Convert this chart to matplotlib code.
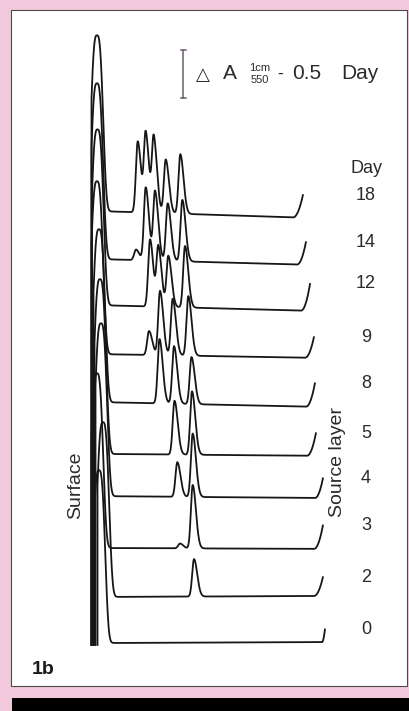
import numpy as np
import matplotlib
matplotlib.use('Agg')
import matplotlib.pyplot as plt
from matplotlib.patches import Rectangle

plt.rcParams['font.family'] = ['Liberation Sans', 'DejaVu Sans']

# Densitometer scans of the soil column, one trace per day (bottom to top)
days = [0, 2, 3, 4, 5, 8, 9, 12, 14, 18]
# vertical offset of each trace (absorbance units)
offsets = [0.0, 0.48, 0.99, 1.53, 1.97, 2.51, 3.01, 3.52, 4.00, 4.50]
# baseline drift from surface to end of scan
drift = [0.01, 0.01, -0.01, -0.02, -0.02, -0.05, -0.04, -0.06, -0.06, -0.07]
# surface peak: position (mm) and height (A)
surface_pos = [0.2, 0.6, 0.0, 0.4, 0.3, 0.2, 0.0, 0.05, 0.0, 0.0]
surface_h = [1.80, 1.82, 1.82, 1.80, 1.82, 1.80, 1.80, 1.83, 1.83, 1.83]
# source layer peaks: (position mm, height A)
peaks = [
    [],
    [(9.7, 0.39)],
    [(8.3, 0.05), (9.57, 0.66)],
    [(8.03, 0.36), (9.57, 0.66)],
    [(7.75, 0.56), (9.5, 0.66)],
    [(6.25, 0.67), (7.7, 0.60), (9.45, 0.49)],
    [(5.2, 0.25), (6.3, 0.67), (7.57, 0.59), (9.13, 0.62)],
    [(5.3, 0.70), (6.13, 0.62), (7.13, 0.53), (8.8, 0.64)],
    [(3.9, 0.11), (4.87, 0.76), (5.8, 0.72), (7.07, 0.60), (8.53, 0.64)],
    [(4.07, 0.74), (4.87, 0.82), (5.67, 0.78), (6.87, 0.56), (8.33, 0.62)],
]
# end of scan: position (mm), final rise (A), width of the rise (mm)
end_x = [22.8, 22.6, 22.6, 22.6, 21.9, 21.8, 21.7, 21.3, 20.9, 20.6]
end_rise = [0.14, 0.20, 0.25, 0.21, 0.24, 0.25, 0.22, 0.28, 0.24, 0.24]
hook_span = [0.3, 0.9, 0.9, 0.8, 0.9, 0.9, 0.9, 0.9, 0.9, 1.0]
bottom = -0.02

fig = plt.figure(figsize=(4.09, 7.11), dpi=100, facecolor='#f2c9dc')
ax = fig.add_axes([0, 0, 1, 1])
ax.set_xlim(-9.7, 31.2)
ax.set_ylim(-0.708, 6.698)
ax.axis('off')
ax.patch.set_alpha(0)

# white panel and black strip below
ax.add_patch(Rectangle((0.027, 0.035), 0.968, 0.951, transform=ax.transAxes,
                       facecolor='white', edgecolor='#4a4a4a', lw=0.8, zorder=0))
ax.add_patch(Rectangle((0.029, 0.0), 0.971, 0.0183, transform=ax.transAxes,
                       facecolor='black', edgecolor='none', zorder=0))

for k, d in enumerate(days):
    xc = surface_pos[k]
    x0 = xc - 0.55
    x = np.arange(x0, end_x[k] + 1e-9, 0.02)
    base = offsets[k] + drift[k] * np.clip((x - xc) / (end_x[k] - xc), 0, 1)
    y = base + surface_h[k] * np.exp(-np.abs((x - xc) / 0.72) ** 3)
    for p, h in peaks[k]:
        s = np.where(x < p, 0.18, 0.32)
        y = y + h * np.exp(-0.5 * ((x - p) / s) ** 2)
    t = np.clip((x - (end_x[k] - hook_span[k])) / hook_span[k], 0, 1)
    y = y + end_rise[k] * t ** 2
    x = np.r_[x0, x]
    y = np.r_[bottom, y]
    ax.plot(x, y, color='#161616', lw=1.3, zorder=3)
    ax.text(26.9, y[-1], str(d), ha='center', va='center', fontsize=13, color='#2b2b2b')

top_label = offsets[-1] + drift[-1] + end_rise[-1]
ax.text(26.9, top_label + 0.27, 'Day', ha='center', va='center', fontsize=13, color='#2b2b2b')

# scale bar 0.5 absorbance
ax.plot([8.6, 8.6], [6.18, 5.68], color='#6b5b6e', lw=1.1, zorder=3)
ax.plot([8.35, 8.85], [6.18, 6.18], color='#6b5b6e', lw=1.1, zorder=3)
ax.plot([8.35, 8.85], [5.68, 5.68], color='#6b5b6e', lw=1.1, zorder=3)

tc = '#2b2b2b'
fig.text(0.495, 0.895, '\u25b3', ha='center', va='center', fontsize=13, color=tc, family='DejaVu Sans')
fig.text(0.562, 0.896, 'A', ha='center', va='center', fontsize=15, color=tc)
fig.text(0.636, 0.904, '1cm', ha='center', va='center', fontsize=8, color=tc)
fig.text(0.636, 0.888, '550', ha='center', va='center', fontsize=8, color=tc)
fig.text(0.685, 0.896, '-', ha='center', va='center', fontsize=13, color=tc)
fig.text(0.750, 0.896, '0.5', ha='center', va='center', fontsize=15, color=tc)
fig.text(0.880, 0.896, 'Day', ha='center', va='center', fontsize=15, color=tc)

fig.text(0.186, 0.318, 'Surface', rotation=90, ha='center', va='center', fontsize=14, color=tc)
fig.text(0.824, 0.350, 'Source layer', rotation=90, ha='center', va='center', fontsize=14, color=tc)
fig.text(0.105, 0.059, '1b', ha='center', va='center', fontsize=14, fontweight='bold', color='#1a1a1a')

fig.savefig('out.png', dpi=100, facecolor=fig.get_facecolor())
